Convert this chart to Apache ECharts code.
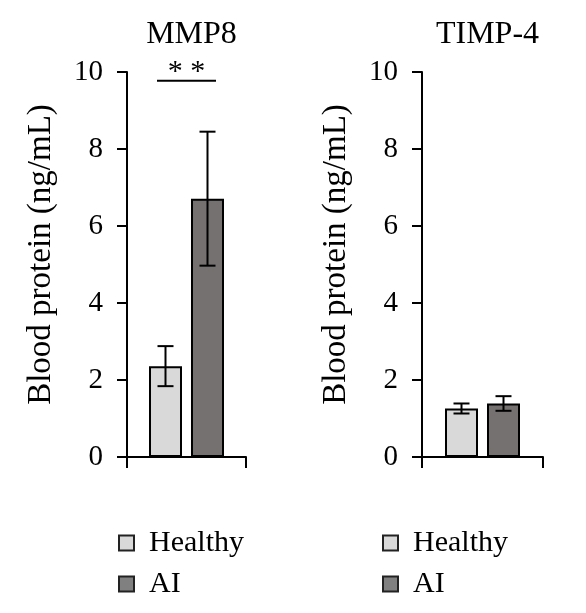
<!DOCTYPE html>
<html>
<head>
<meta charset="utf-8">
<script src="https://cdn.jsdelivr.net/npm/echarts@6/dist/echarts.min.js"></script>
<style>
html,body{margin:0;padding:0;background:#fff;}
#chart{width:586px;height:613px;}
</style>
</head>
<body>
<div id="chart"></div>
<script>
// ---- data ----
const panels = ['MMP8', 'TIMP-4'];
const groups = ['Healthy', 'AI'];
const meanHealthy = [2.36, 1.26];
const meanAI = [6.71, 1.39];
const errHealthy = [0.52, 0.13];
const errAI = [1.74, 0.19];
const yTicks = [0, 2, 4, 6, 8, 10];
const sigLabel = ['**', ''];
const sigLevel = [9.77, null];

// ---- style ----
const FONT = '"Liberation Serif", "Times New Roman", serif';
const C_H = '#d9d9d9', C_A = '#757171';
const BAR_W = 33, GAP = 9;
const grids = [
  { left: 127, top: 72, width: 119, height: 385 },
  { left: 422, top: 72, width: 121, height: 385 }
];

const chart = echarts.init(document.getElementById('chart'), null, { renderer: 'canvas' });

const xAxis = [], yAxis = [], series = [], title = [], legend = [];
panels.forEach((p, i) => {
  xAxis.push({
    type: 'category', gridIndex: i, data: [p], boundaryGap: true,
    axisLine: { lineStyle: { color: '#000', width: 2 } },
    axisTick: { show: true, length: 11, lineStyle: { color: '#000', width: 2 } },
    axisLabel: { show: false }, splitLine: { show: false }
  });
  yAxis.push({
    type: 'value', gridIndex: i, min: yTicks[0], max: yTicks[yTicks.length - 1], interval: 2,
    name: 'Blood protein (ng/mL)', nameLocation: 'middle', nameGap: 69,
    nameTextStyle: { fontFamily: FONT, fontSize: 33, color: '#000', padding: [0, 0, 0, 20] },
    axisLine: { show: true, lineStyle: { color: '#000', width: 2 } },
    axisTick: { show: true, length: 10, lineStyle: { color: '#000', width: 2 } },
    axisLabel: { fontFamily: FONT, fontSize: 29, color: '#000', margin: 24 },
    splitLine: { show: false }
  });
  series.push({
    name: 'Healthy', type: 'bar', xAxisIndex: i, yAxisIndex: i,
    data: [meanHealthy[i]], barWidth: BAR_W, barGap: (GAP / BAR_W * 100) + '%',
    itemStyle: { color: C_H, borderColor: '#000', borderWidth: 2 }, z: 2
  });
  series.push({
    name: 'AI', type: 'bar', xAxisIndex: i, yAxisIndex: i,
    data: [meanAI[i]], barWidth: BAR_W, barGap: (GAP / BAR_W * 100) + '%',
    itemStyle: { color: C_A, borderColor: '#000', borderWidth: 2 }, z: 2
  });
  const errData = [
    [0, meanHealthy[i] - errHealthy[i], meanHealthy[i] + errHealthy[i], -1],
    [0, meanAI[i] - errAI[i], meanAI[i] + errAI[i], 1]
  ];
  series.push({
    type: 'custom', xAxisIndex: i, yAxisIndex: i, data: errData, z: 5, silent: true,
    encode: { x: 0, y: [1, 2] },
    renderItem: function (params, api) {
      const side = api.value(3);
      const lo = api.coord([api.value(0), api.value(1)]);
      const hi = api.coord([api.value(0), api.value(2)]);
      const x = lo[0] + side * (BAR_W + GAP) / 2;
      const cap = 8;
      const st = { stroke: '#000', lineWidth: 2 };
      return { type: 'group', children: [
        { type: 'line', shape: { x1: x, y1: lo[1], x2: x, y2: hi[1] }, style: st },
        { type: 'line', shape: { x1: x - cap, y1: lo[1], x2: x + cap, y2: lo[1] }, style: st },
        { type: 'line', shape: { x1: x - cap, y1: hi[1], x2: x + cap, y2: hi[1] }, style: st }
      ] };
    }
  });
  if (sigLevel[i] !== null) {
    series.push({
      type: 'custom', xAxisIndex: i, yAxisIndex: i, data: [[0, sigLevel[i]]], z: 5, silent: true, clip: false,
      encode: { x: 0, y: 1 },
      renderItem: function (params, api) {
        const c = api.coord([api.value(0), api.value(1)]);
        const half = (BAR_W + GAP) / 2 + 8.5;
        return { type: 'group', children: [
          { type: 'line', shape: { x1: c[0] - half, y1: c[1], x2: c[0] + half, y2: c[1] }, style: { stroke: '#000', lineWidth: 2 } },
          { type: 'text', x: c[0], y: c[1] + 6, style: { text: sigLabel[i].split('').join(' '), font: '30px ' + FONT, fill: '#000', textAlign: 'center', textVerticalAlign: 'bottom' } }
        ] };
      }
    });
  }
  title.push({
    text: p, left: grids[i].left + grids[i].width / 2, top: 14, textAlign: 'center',
    textStyle: { fontFamily: FONT, fontSize: 32, fontWeight: 'normal', color: '#000' }
  });
});

function makeLegend(left) {
  return {
    orient: 'vertical', left: left, top: 523, itemWidth: 15, itemHeight: 15, itemGap: 11,
    textStyle: { fontFamily: FONT, fontSize: 30, color: '#000', lineHeight: 28, padding: [0, 0, 0, 10] },
    data: [
      { name: 'Healthy', icon: 'rect', itemStyle: { color: C_H, borderColor: '#222', borderWidth: 2 } },
      { name: 'AI', icon: 'rect', itemStyle: { color: '#808080', borderColor: '#222', borderWidth: 2 } }
    ],
    selectedMode: false
  };
}
legend.push(makeLegend(113));
legend.push(makeLegend(377));

chart.setOption({
  backgroundColor: '#fff',
  animation: false,
  title: title,
  legend: legend,
  grid: grids,
  xAxis: xAxis,
  yAxis: yAxis,
  series: series
});
</script>
</body>
</html>
